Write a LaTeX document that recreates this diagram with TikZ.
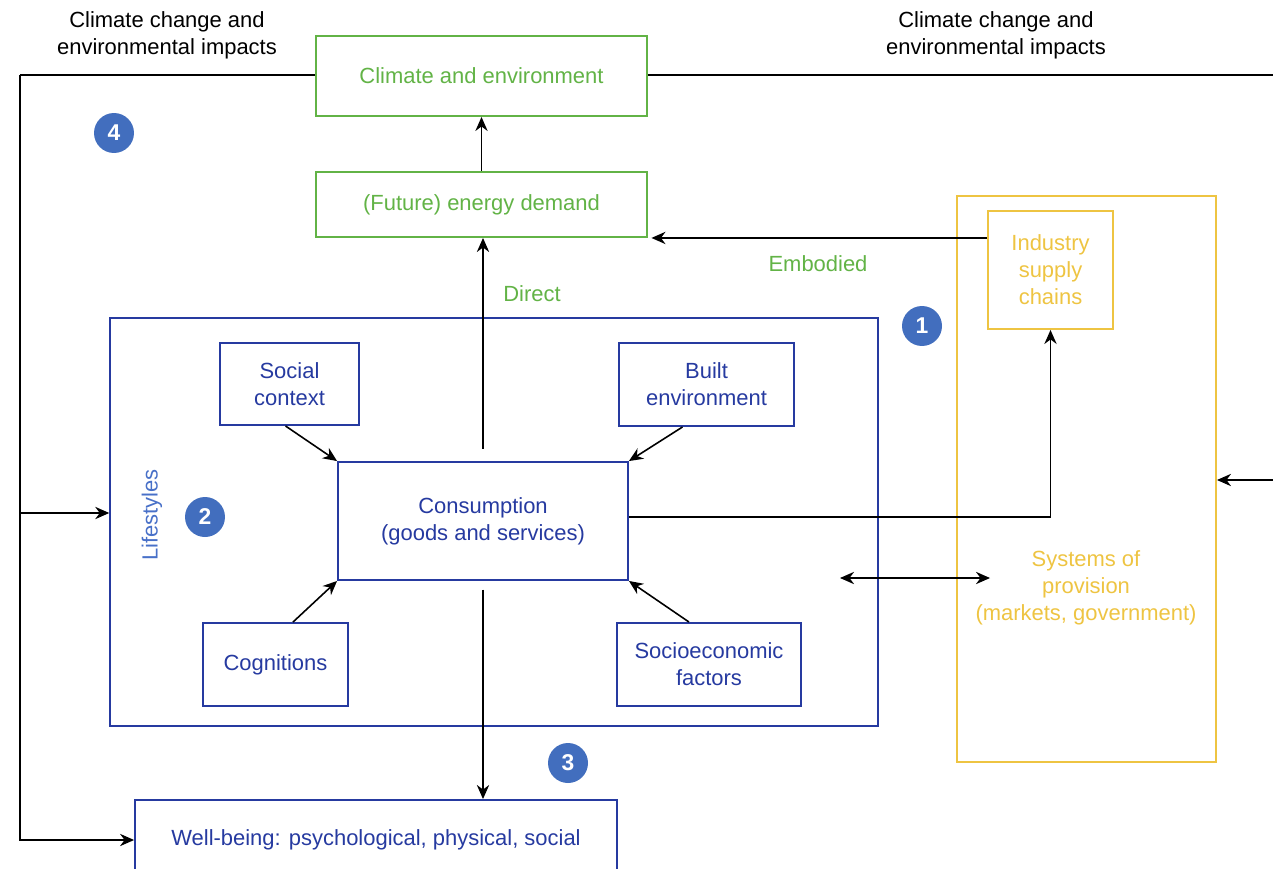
\documentclass[tikz,border=0pt]{standalone}
\usepackage{fontspec}
\setmainfont{Liberation Sans}
\usepackage{tikz}
\usetikzlibrary{arrows.meta,positioning}
\definecolor{envgreen}{RGB}{98,179,70}
\definecolor{lifeblue}{RGB}{38,58,160}
\definecolor{lightblue}{RGB}{72,112,200}
\definecolor{badgeblue}{RGB}{66,110,190}
\definecolor{provyellow}{RGB}{238,196,66}
\tikzstyle{greenbox} = [draw=envgreen, text=envgreen, line width=1.1pt, rectangle, inner sep=0pt, align=center]
\tikzstyle{bluebox} = [draw=lifeblue, text=lifeblue, line width=1.1pt, rectangle, inner sep=0pt, align=center]
\tikzstyle{yellowbox} = [draw=provyellow, text=provyellow, line width=1.1pt, rectangle, inner sep=0pt, align=center]
\tikzstyle{badge} = [circle, fill=badgeblue, text=white, font=\bfseries\fontsize{13}{13}\selectfont, minimum size=0.8cm, inner sep=0pt]
\tikzstyle{flow} = [-{Stealth[length=8pt,width=7pt]}, line width=0.9pt]
\tikzstyle{loop} = [line width=0.9pt]

\begin{document}
\begin{tikzpicture}[x=0.02cm, y=-0.02cm, font=\fontsize{12.5}{15.3}\selectfont]
	\useasboundingbox (0,0) rectangle (1273,868);
	% energy and environment
	\node[greenbox, minimum width=6.62cm, minimum height=1.6cm] (clim) at (481.5,76) {Climate and environment};
	\node[greenbox, minimum width=6.62cm, minimum height=1.3cm] (en) at (481.5,204.5) {(Future) energy demand};
	\node[align=center] (ccl) at (167,35) {Climate change and\\environmental impacts};
	\node[align=center] (ccr) at (996,35) {Climate change and\\environmental impacts};
	% lifestyles
	\node[bluebox, line width=0.9pt, minimum width=15.36cm, minimum height=8.16cm] (life) at (494,522) {};
	\node[text=lightblue, rotate=90] (lsty) at (152,515) {Lifestyles};
	\node[bluebox, minimum width=2.78cm, minimum height=1.64cm] (soc) at (289.5,384) {Social\\context};
	\node[bluebox, minimum width=3.5cm, minimum height=1.66cm] (bui) at (706.5,384.5) {Built\\environment};
	\node[bluebox, minimum width=5.8cm, minimum height=2.36cm] (cons) at (483,521) {Consumption\\(goods and services)};
	\node[bluebox, minimum width=2.9cm, minimum height=1.66cm] (cog) at (275.5,664.5) {Cognitions};
	\node[bluebox, minimum width=3.68cm, minimum height=1.66cm] (soe) at (709,664.5) {Socioeconomic\\factors};
	\node[bluebox, minimum width=9.64cm, minimum height=1.6cm] (wb) at (376,840) {Well-being: psychological, physical, social};
	% systems of provision
	\node[yellowbox, minimum width=5.18cm, minimum height=11.32cm] (sys) at (1086.5,479) {};
	\node[yellowbox, draw=none] (systxt) at (1086,588) {Systems of\\provision\\(markets, government)};
	\node[yellowbox, minimum width=2.5cm, minimum height=2.36cm] (ind) at (1050.5,270) {Industry\\supply\\chains};
	% badges
	\node[badge] (b1) at (922,326) {1};
	\node[badge] (b2) at (205,517) {2};
	\node[badge] (b3) at (568,763) {3};
	\node[badge] (b4) at (114,133) {4};
	% labels
	\node[text=envgreen] (ldir) at (532,294) {Direct};
	\node[text=envgreen] (lemb) at (818,264) {Embodied};
	% connectors
	\coordinate (lt) at (20,75);
	\coordinate (lb) at (20,513);
	\coordinate (rt) at (1273,75);
	\coordinate (rin) at (1273,480);
	\coordinate (dl) at (840,578);
	\coordinate (dr) at (990,578);
	\draw[flow] (en.north) -- (clim.south);
	\draw[flow, shorten <=7pt] (cons.north) -- (cons.north |- en.south);
	\draw[flow, shorten <=5pt] (cons.south) -- (cons.south |- wb.north);
	\draw[flow] ([xshift=-0.08cm]soc.south) -- (cons.north west);
	\draw[flow] ([xshift=-0.48cm]bui.south) -- (cons.north east);
	\draw[flow] ([xshift=0.35cm]cog.north) -- (cons.south west);
	\draw[flow] ([xshift=-0.4cm]soe.north) -- (cons.south east);
	\draw[flow] (ind.west |- en.south) -- ([xshift=2pt]en.south east);
	\draw[flow] ([yshift=0.08cm]cons.east) -| (ind.south);
	\draw[{Stealth[length=8pt,width=7pt]}-{Stealth[length=8pt,width=7pt]}, line width=0.9pt] (dl) -- (dr);
	\draw[loop] (clim.west |- lt) -- (lt);
	\draw[flow] (lt) |- (wb.west);
	\draw[flow] (lb) -- (lb -| life.west);
	\draw[loop] (clim.east |- rt) -- (rt);
	\draw[flow] (rin) -- (rin -| sys.east);
\end{tikzpicture}
\end{document}
